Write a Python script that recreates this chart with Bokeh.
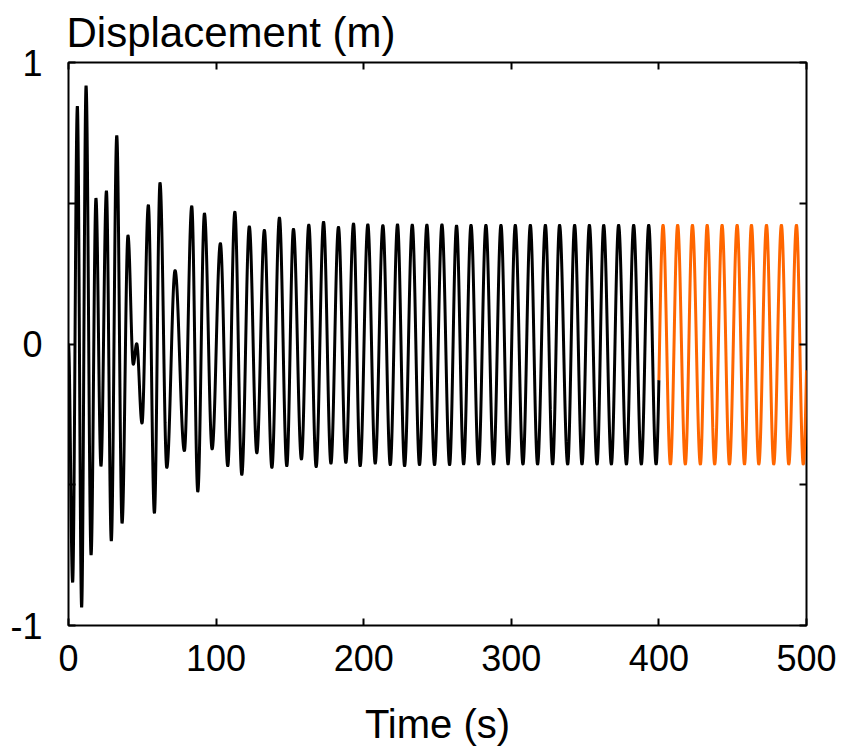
import numpy as np
from bokeh.plotting import figure
from bokeh.models import Range1d, FixedTicker, LinearAxis
from bokeh.embed import file_html
from bokeh.resources import INLINE

# Extrema (time in s, displacement in m)
ext_time = [0.0, 2.8, 6.0, 8.9, 11.9, 15.3, 18.6, 22.0, 25.7, 29.0, 32.7, 36.3,
            40.3, 43.9, 46.2, 49.8, 54.1, 58.2, 62.0, 66.6, 72.2, 78.5, 83.5,
            87.6, 92.1, 97.3, 102.9, 107.9, 112.7, 117.4, 122.5, 127.6, 132.7,
            137.8, 142.9, 147.9, 152.4, 157.8, 162.8, 167.8, 172.8, 177.8,
            182.9, 187.9, 193.1, 197.6, 202.8, 207.8, 213.0, 218.0, 222.9,
            227.7, 232.9, 237.8, 242.8, 248.0, 253.0, 258.2, 262.9, 267.7,
            272.7, 277.8, 282.8, 288.0, 293.0, 297.8, 302.7, 307.9, 312.9,
            317.8, 323.1, 328.0, 332.7, 338.2, 342.9, 347.9, 352.9, 358.1,
            362.6, 367.8, 372.7, 378.0, 382.9, 388.1, 393.1, 398.1, 402.8,
            407.8, 412.7, 417.9, 422.7, 428.1, 432.7, 437.8, 442.8, 447.8,
            453.0, 458.0, 462.7, 467.7, 472.9, 477.8, 483.0, 488.0, 493.2,
            497.8, 502.9]
ext_disp = [0.0, -0.846, 0.844, -0.935, 0.917, -0.749, 0.517, -0.433, 0.543,
            -0.699, 0.740, -0.636, 0.385, -0.072, 0.001, -0.281, 0.493, -0.600,
            0.572, -0.439, 0.261, -0.379, 0.489, -0.524, 0.463, -0.373, 0.357,
            -0.433, 0.469, -0.464, 0.417, -0.387, 0.404, -0.439, 0.448, -0.433,
            0.408, -0.409, 0.423, -0.436, 0.433, -0.424, 0.415, -0.421, 0.427,
            -0.433, 0.424, -0.424, 0.421, -0.429, 0.424, -0.433, 0.423, -0.429,
            0.423, -0.429, 0.424, -0.429, 0.420, -0.427, 0.422, -0.427, 0.422,
            -0.427, 0.422, -0.427, 0.422, -0.427, 0.422, -0.427, 0.422, -0.427,
            0.422, -0.427, 0.422, -0.427, 0.422, -0.427, 0.422, -0.427, 0.422,
            -0.427, 0.422, -0.427, 0.422, -0.427, 0.422, -0.427, 0.422, -0.427,
            0.422, -0.427, 0.422, -0.427, 0.422, -0.427, 0.422, -0.427, 0.422,
            -0.427, 0.422, -0.427, 0.422, -0.427, 0.422, -0.427, 0.422]
switch_time = 400.0
end_time = 500.0

x_ticks = [0, 100, 200, 300, 400, 500]
y_ticks = [-1, -0.5, 0, 0.5, 1]
y_tick_labels = {-1: "-1", -0.5: "", 0: "0", 0.5: "", 1: "1"}
title_text = "Displacement (m)"
x_label_text = "Time (s)"


def smooth_curve(tk, yk, step=0.05):
    ts, ys = [], []
    for i in range(len(tk) - 1):
        t = np.arange(tk[i], tk[i + 1], step)
        s = (1 - np.cos(np.pi * (t - tk[i]) / (tk[i + 1] - tk[i]))) / 2
        ts.append(t)
        ys.append(yk[i] + (yk[i + 1] - yk[i]) * s)
    ts.append(np.array([tk[-1]]))
    ys.append(np.array([yk[-1]]))
    return np.concatenate(ts), np.concatenate(ys)


t_all, y_all = smooth_curve(ext_time, ext_disp)
y_switch = np.interp(switch_time, t_all, y_all)
y_end = np.interp(end_time, t_all, y_all)

m1 = t_all < switch_time
t1 = np.append(t_all[m1], switch_time)
y1 = np.append(y_all[m1], y_switch)
m2 = (t_all > switch_time) & (t_all < end_time)
t2 = np.concatenate([[switch_time], t_all[m2], [end_time]])
y2 = np.concatenate([[y_switch], y_all[m2], [y_end]])

FONT = "Liberation Sans"

p = figure(width=844, height=751, output_backend="svg", toolbar_location=None,
           x_range=Range1d(0, 500), y_range=Range1d(-1, 1),
           min_border_left=68, min_border_right=38, min_border_top=61,
           min_border_bottom=126, title=title_text)
p.title.align = "left"
p.title.text_font = FONT
p.title.text_font_size = "42px"
p.title.text_font_style = "normal"
p.title.text_color = "black"
p.title.text_line_height = 0.8
p.title.standoff = 13
p.title.offset = -2

p.grid.visible = False
p.outline_line_color = "black"
p.outline_line_width = 2
p.background_fill_color = "white"
p.border_fill_color = "white"

p.line(t1, y1, line_color="black", line_width=3)
p.line(t2, y2, line_color="#ff6600", line_width=3)


def style_axis(ax, labels=True):
    ax.axis_line_color = None
    ax.major_tick_in = 7
    ax.major_tick_out = 0
    ax.major_tick_line_width = 2
    ax.major_tick_line_color = "black"
    ax.minor_tick_line_color = None
    ax.major_label_text_font = FONT
    ax.major_label_text_color = "black"
    if labels:
        ax.major_label_text_font_size = "36px"
    else:
        ax.major_label_text_font_size = "1px"
        ax.major_label_text_alpha = 0
        ax.major_label_standoff = 0


xa = p.xaxis[0]
xa.ticker = FixedTicker(ticks=x_ticks)
style_axis(xa)
xa.major_label_standoff = 19
xa.axis_label = x_label_text
xa.axis_label_text_font = FONT
xa.axis_label_text_font_size = "40px"
xa.axis_label_text_font_style = "normal"
xa.axis_label_text_color = "black"
xa.axis_label_standoff = 28

ya = p.yaxis[0]
ya.ticker = FixedTicker(ticks=y_ticks)
ya.major_label_overrides = y_tick_labels
style_axis(ya)
ya.major_label_standoff = 26

ra = LinearAxis(ticker=FixedTicker(ticks=y_ticks),
                major_label_overrides={k: "" for k in y_ticks})
style_axis(ra, labels=False)
p.add_layout(ra, "right")

ta = LinearAxis(ticker=FixedTicker(ticks=x_ticks),
                major_label_overrides={k: "" for k in x_ticks})
style_axis(ta, labels=False)
p.add_layout(ta, "above")

open("out.html", "w").write(file_html(p, INLINE))
